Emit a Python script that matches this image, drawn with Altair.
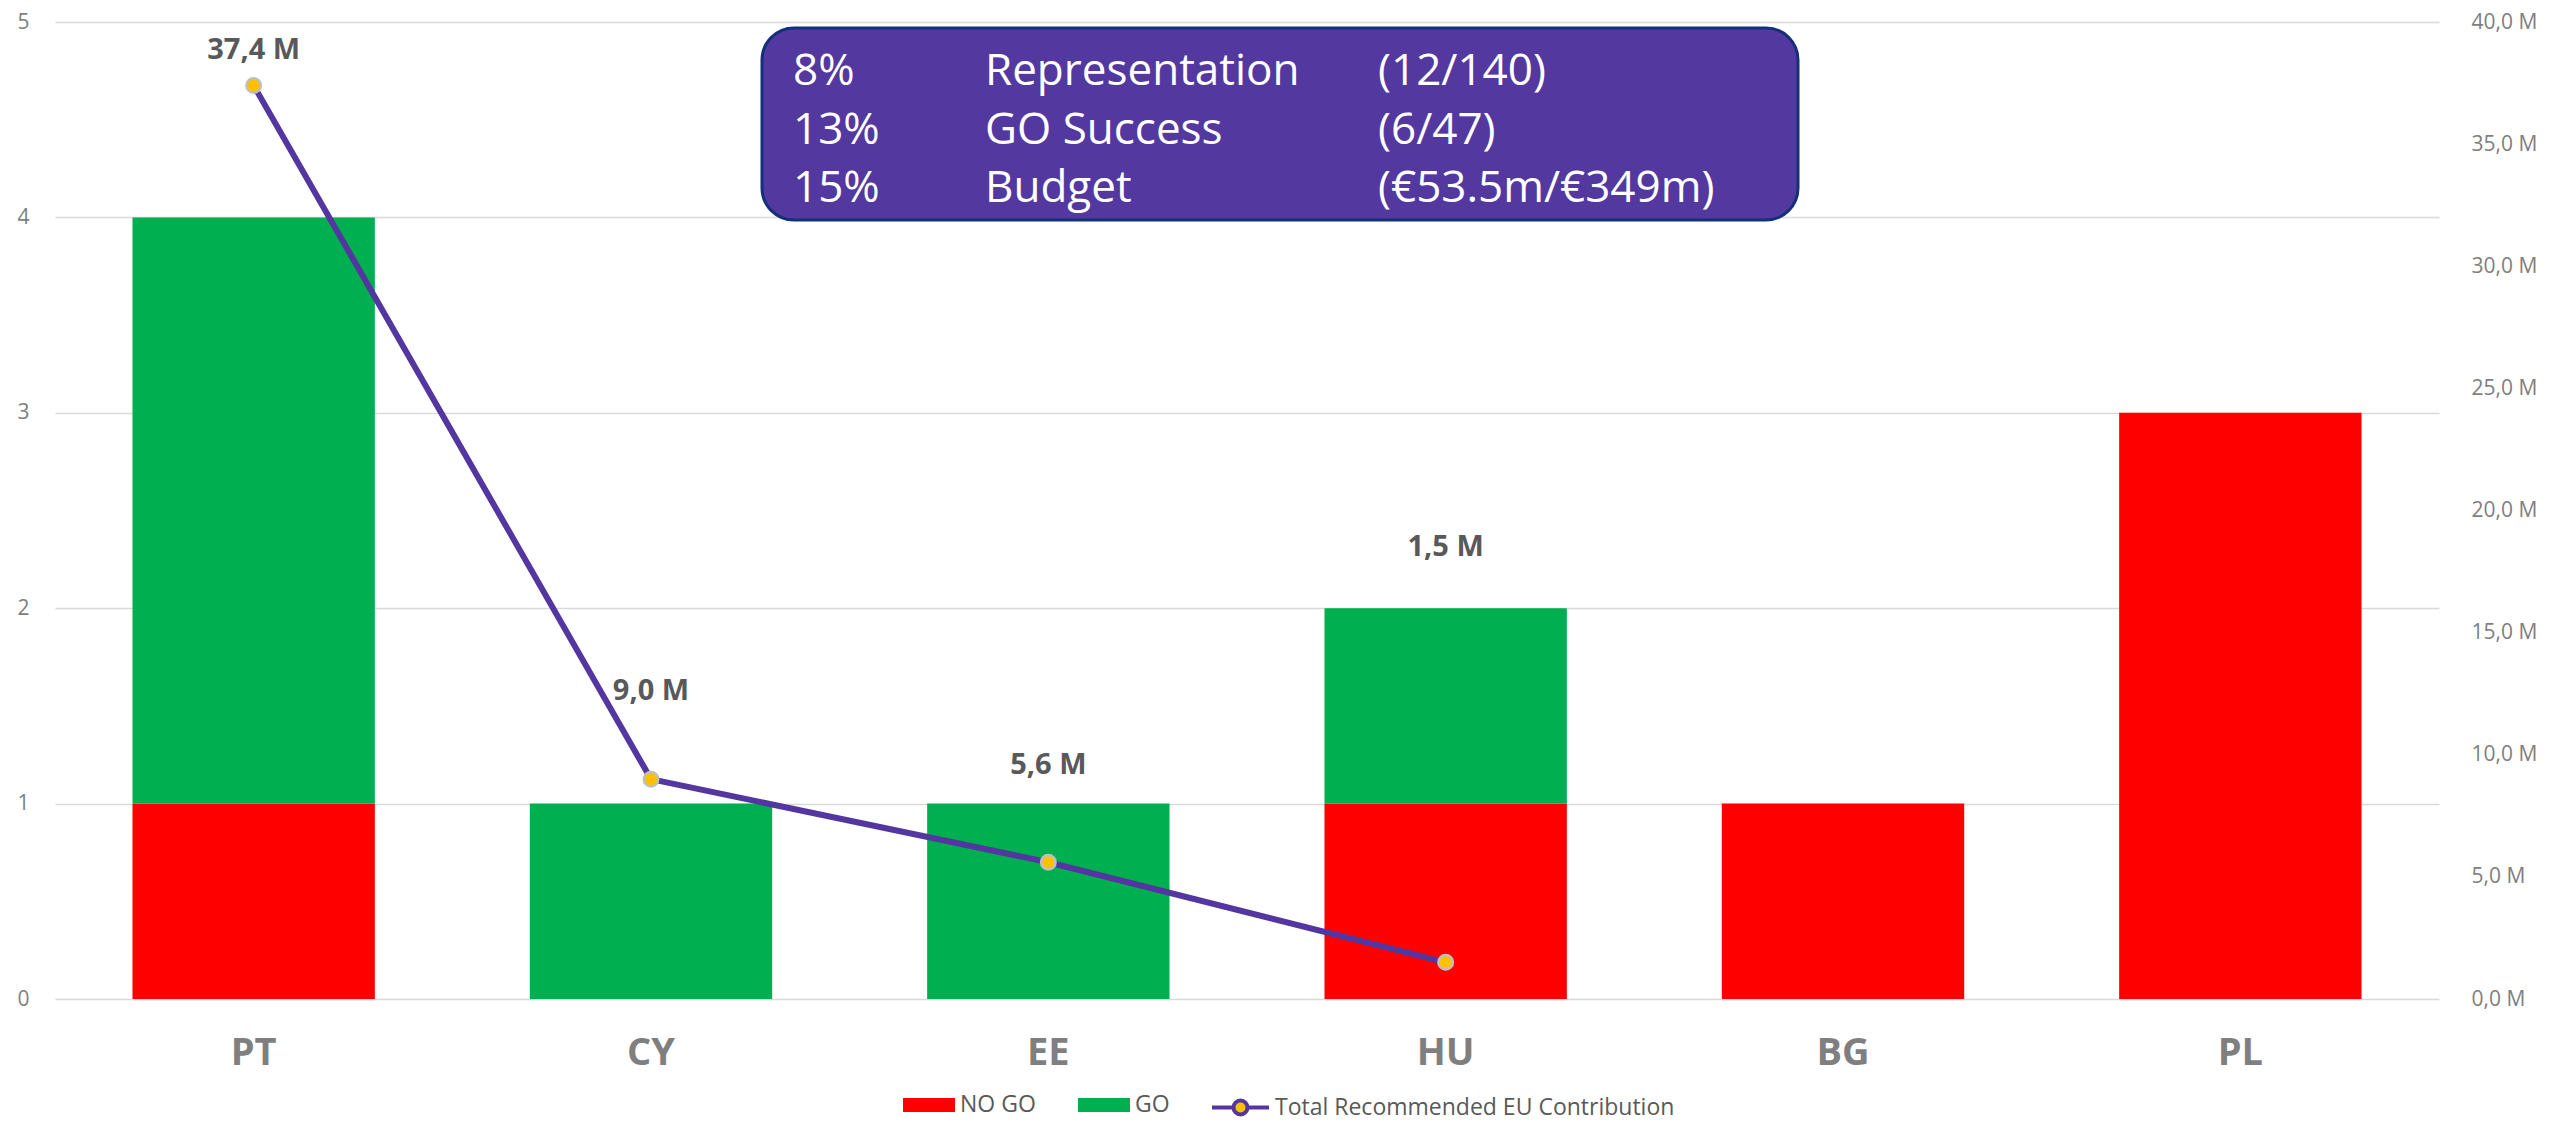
import altair as alt
import pandas as pd

# ---- data ----
categories = ["PT", "CY", "EE", "HU", "BG", "PL"]
no_go = [1, 0, 0, 1, 1, 3]
go = [3, 1, 1, 1, 0, 0]

line_categories = ["PT", "CY", "EE", "HU"]
contribution_m = [37.4, 9.0, 5.6, 1.5]
# vertical anchor (in M, right axis units) of each data label
label_anchor_m = [38.85, 12.6, 9.6, 18.5]

box_pct = ["8%", "13%", "15%"]
box_metric = ["Representation", "GO Success", "Budget"]
box_ratio = ["(12/140)", "(6/47)", "(€53.5m/€349m)"]

status_names = ["NO GO", "GO"]
status_colors = ["#FF0000", "#00B050"]
line_name = "Total Recommended EU Contribution"

FONT = "Open Sans"
W, H = 2384, 977

# ---- tables ----
rows = []
for c, n, g in zip(categories, no_go, go):
    rows.append({"cat": c, "status": "NO GO", "order": 0, "n": n})
    rows.append({"cat": c, "status": "GO", "order": 1, "n": g})
bars_df = pd.DataFrame(rows)

line_df = pd.DataFrame({
    "cat": line_categories,
    "value": contribution_m,
    "label_m": label_anchor_m,
    "series": [line_name] * len(line_categories),
    "label": [f"{v:.1f}".replace(".", ",") + " M" for v in contribution_m],
})

x_enc = alt.X(
    "cat:N",
    sort=categories,
    scale=alt.Scale(domain=categories, paddingInner=0.39, paddingOuter=0.195),
    axis=alt.Axis(
        title=None, domain=False, ticks=False, labelAngle=0,
        labelFont=FONT, labelFontSize=38, labelFontWeight="bold",
        labelColor="#7F7F7F", labelBaseline="middle", labelPadding=54,
    ),
)

bars = alt.Chart(bars_df).mark_bar().encode(
    x=x_enc,
    y=alt.Y(
        "n:Q",
        stack="zero",
        scale=alt.Scale(domain=[0, 5], nice=False),
        axis=alt.Axis(
            title=None, values=[0, 1, 2, 3, 4, 5], domain=False, ticks=False,
            grid=True, gridColor="#D9D9D9", gridWidth=1.5,
            labelFont=FONT, labelFontSize=21, labelColor="#7F7F7F",
            labelPadding=26,
        ),
    ),
    color=alt.Color(
        "status:N",
        scale=alt.Scale(domain=status_names, range=status_colors),
        legend=alt.Legend(
            title=None, orient="none", legendX=848, legendY=1057,
            direction="horizontal", padding=0,
            symbolType="M-1,-0.27H1V0.27H-1Z", symbolSize=2704,
            symbolStrokeWidth=0, labelOffset=5, columnPadding=42,
            labelFont=FONT, labelFontSize=23, labelColor="#595959",
            labelLimit=0,
        ),
    ),
    order=alt.Order("order:Q", sort="ascending"),
)

y_right_axis = alt.Axis(
    title=None, orient="right", values=list(range(0, 45, 5)),
    domain=False, ticks=False, grid=False,
    labelFont=FONT, labelFontSize=21, labelColor="#7F7F7F", labelPadding=32,
    labelExpr="replace(format(datum.value, '.1f'), '.', ',') + ' M'",
)
y_right_scale = alt.Scale(domain=[0, 40], nice=False)

legend_line_path = (
    "M-1,0H-0.245M0.245,0H1"
    "M-0.245,0A0.245,0.245,0,1,0,0.245,0A0.245,0.245,0,1,0,-0.245,0Z"
)

line = alt.Chart(line_df).mark_line(strokeWidth=6).encode(
    x=x_enc,
    y=alt.Y("value:Q", scale=y_right_scale, axis=y_right_axis),
    stroke=alt.Stroke(
        "series:N",
        scale=alt.Scale(domain=[line_name], range=["#5336A0"]),
        legend=alt.Legend(
            title=None, orient="none", legendX=1155, legendY=1055,
            direction="horizontal", padding=0,
            symbolType=legend_line_path, symbolSize=3249,
            symbolStrokeWidth=4, symbolFillColor="#FFC000", symbolOpacity=1,
            labelOffset=4, labelLimit=0,
            labelFont=FONT, labelFontSize=23, labelColor="#595959",
        ),
    ),
)

points = alt.Chart(line_df).mark_circle(
    color="#FFC000", stroke="#BFBFBF", strokeWidth=2.5, size=210, opacity=1
).encode(
    x=x_enc,
    y=alt.Y("value:Q", scale=y_right_scale, axis=y_right_axis),
)

labels = alt.Chart(line_df).mark_text(
    font=FONT, fontSize=29, fontWeight="bold", color="#595959", baseline="middle"
).encode(
    x=x_enc,
    y=alt.Y("label_m:Q", scale=y_right_scale, axis=y_right_axis),
    text="label:N",
)

right_layer = alt.layer(line, points, labels)

# ---- annotation box ----
one = alt.Data(values=[{}])
box = alt.Chart(one).mark_rect(
    fill="#5338A0", stroke="#14307A", strokeWidth=3, cornerRadius=32
).encode(
    x=alt.value(707), x2=alt.value(1743), y=alt.value(6), y2=alt.value(198)
)

def box_col(items, xpos):
    return alt.Chart(one).mark_text(
        font=FONT, fontSize=44, color="white", align="left",
        baseline="middle", lineBreak="\n", lineHeight=58.5,
    ).encode(
        x=alt.value(xpos), y=alt.value(50), text=alt.value("\n".join(items))
    )

box_texts = box_col(box_pct, 738) + box_col(box_metric, 930) + box_col(box_ratio, 1323)

chart = alt.layer(bars, right_layer, box, box_texts).resolve_scale(
    y="independent"
).properties(
    width=W, height=H,
    autosize=alt.AutoSizeParams(type="none"),
    padding={"left": 47, "top": 14, "right": 100, "bottom": 122},
).configure_view(stroke=None)

chart.save("out.html", embed_options={"renderer": "svg", "actions": False})
